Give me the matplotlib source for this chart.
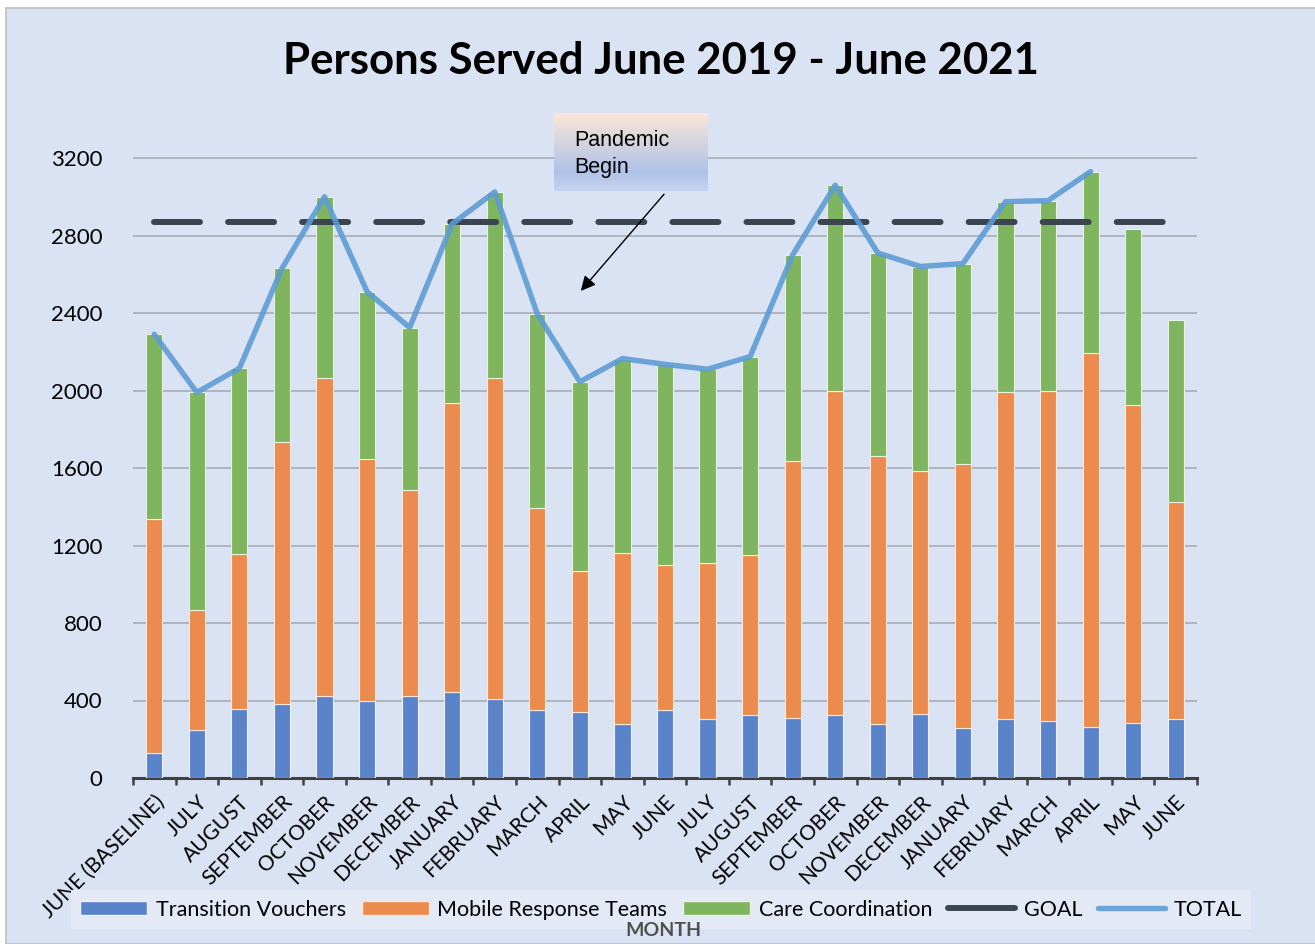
import matplotlib
matplotlib.use("Agg")
import matplotlib.pyplot as plt
import numpy as np
from matplotlib.patches import Rectangle, Patch
from matplotlib.lines import Line2D

months = ["JUNE (BASELINE)", "JULY", "AUGUST", "SEPTEMBER", "OCTOBER", "NOVEMBER",
          "DECEMBER", "JANUARY", "FEBRUARY", "MARCH", "APRIL", "MAY", "JUNE",
          "JULY", "AUGUST", "SEPTEMBER", "OCTOBER", "NOVEMBER", "DECEMBER",
          "JANUARY", "FEBRUARY", "MARCH", "APRIL", "MAY", "JUNE"]
transition_vouchers = [130, 250, 355, 380, 425, 400, 425, 445, 410, 350, 340, 280, 350,
                       305, 325, 310, 325, 280, 330, 260, 305, 295, 265, 285, 305]
mobile_response = [1205, 615, 800, 1355, 1640, 1245, 1060, 1490, 1655, 1045, 730, 880, 750,
                   805, 825, 1325, 1675, 1380, 1255, 1360, 1685, 1700, 1930, 1640, 1120]
care_coordination = [955, 1125, 960, 895, 935, 865, 840, 925, 960, 1000, 975, 1005, 1035,
                     1000, 1025, 1065, 1060, 1050, 1055, 1035, 985, 985, 935, 910, 940]
goal = [2870] * 25
total = [2290, 1990, 2115, 2630, 3000, 2510, 2325, 2860, 3025, 2395, 2045, 2165, 2135,
         2110, 2175, 2700, 3060, 2710, 2640, 2655, 2975, 2980, 3130]
yticks = [0, 400, 800, 1200, 1600, 2000, 2400, 2800, 3200]

C_BLUE = "#5A84CA"
C_ORANGE = "#EB8B4D"
C_GREEN = "#80B55F"
C_GOAL = "#3A4550"
C_TOTAL = "#5B9BD5"
BG = "#DAE3F3"

W, H = 1315, 944
fig = plt.figure(figsize=(W / 100, H / 100), dpi=100)
fig.patch.set_facecolor("white")
bgrect = Rectangle((6 / W, 0), 1.0, 1 - 8 / H, transform=fig.transFigure,
                   facecolor=BG, edgecolor="#BFBFBF", linewidth=1.2, zorder=-10)
fig.patches.append(bgrect)

ax = fig.add_axes([133 / W, 1 - 778 / H, 1064 / W, 658.75 / H])
ax.set_facecolor("none")

x = np.arange(len(months))
bw = 0.38
tv = np.array(transition_vouchers)
mr = np.array(mobile_response)
cc = np.array(care_coordination)
ax.bar(x, tv, bw, color=C_BLUE, edgecolor="#EEF2FA", linewidth=0.8, zorder=3)
ax.bar(x, mr, bw, bottom=tv, color=C_ORANGE, edgecolor="#FBE9DC", linewidth=0.8, zorder=3)
ax.bar(x, cc, bw, bottom=tv + mr, color=C_GREEN, edgecolor="#E8F2E0", linewidth=0.8, zorder=3)

ax.plot(x, goal, color=C_GOAL, lw=4.3, linestyle=(0, (7.7, 4.7)),
        dash_capstyle="round", zorder=4)
ax.plot(x[:len(total)], total, color=C_TOTAL, lw=3.9, alpha=0.88,
        solid_joinstyle="round", solid_capstyle="round", zorder=5)

ax.set_xlim(-0.5, len(months) - 0.5)
ax.set_ylim(0, 3400)
ax.set_yticks(yticks)
ax.set_yticklabels([str(v) for v in yticks], fontfamily="Lato", fontsize=16)
ax.tick_params(axis="y", length=0, pad=22)
ax.grid(axis="y", color="#A8ADB5", lw=1.2, zorder=1)
ax.set_axisbelow(True)

ax.set_xticks(x)
ax.set_xticklabels(months, rotation=45, ha="right", va="top", rotation_mode="anchor",
                   fontfamily="Lato", fontsize=15, color="#000000")
ax.tick_params(axis="x", which="major", length=0, pad=10)
ax.set_xticks(np.arange(-0.5, len(months), 1.0), minor=True)
ax.tick_params(axis="x", which="minor", length=5, width=1.8, color="#404040", direction="out")

for s in ["top", "right", "left"]:
    ax.spines[s].set_visible(False)
ax.spines["bottom"].set_color("#404040")
ax.spines["bottom"].set_linewidth(2.2)

# Title
fig.text(661 / W, 1 - 61 / H, "Persons Served June 2019 - June 2021", ha="center", va="center",
         fontfamily="Lato", fontweight="bold", fontsize=31.5)

# Annotation box with gradient
bax = fig.add_axes([554 / W, 1 - 191 / H, 154 / W, 78 / H])
top = np.array([0xFC, 0xE6, 0xD8]) / 255
mid = np.array([0xAF, 0xC3, 0xE8]) / 255
bot = np.array([0xC4, 0xD3, 0xEF]) / 255
n = 100
grad = np.zeros((n, 1, 3))
for i in range(n):
    t = i / (n - 1)
    if t < 0.75:
        f = t / 0.75
        grad[i, 0] = top * (1 - f) + mid * f
    else:
        f = (t - 0.75) / 0.25
        grad[i, 0] = mid * (1 - f) + bot * f
bax.imshow(grad, aspect="auto", extent=[0, 1, 0, 1], origin="upper")
bax.set_axis_off()
bax.text(20 / 154, 0.475, "Pandemic\nBegin", ha="left", va="center", fontfamily="Liberation Sans",
         fontsize=15.5, linespacing=1.38, transform=bax.transAxes)

ax.annotate("", xy=(9.98, 2503), xytext=(12.02, 3024),
            arrowprops=dict(arrowstyle="-|>", color="black", lw=1.0, mutation_scale=22),
            zorder=6)

# Legend
handles = [Patch(facecolor=C_BLUE, edgecolor="#EEF2FA"),
           Patch(facecolor=C_ORANGE, edgecolor="#FBE9DC"),
           Patch(facecolor=C_GREEN, edgecolor="#E8F2E0"),
           Line2D([], [], color=C_GOAL, lw=4.3, solid_capstyle="round"),
           Line2D([], [], color=C_TOTAL, lw=3.9, alpha=0.88, solid_capstyle="round")]
labels = ["Transition Vouchers", "Mobile Response Teams", "Care Coordination", "GOAL", "TOTAL"]
leg = fig.legend(handles, labels, loc="center", bbox_to_anchor=(661 / W, 1 - 909.5 / H),
                 ncol=5, frameon=True, fancybox=False, prop={"family": "Lato", "size": 15.5},
                 handlelength=3.1, handleheight=0.65, handletextpad=0.4, columnspacing=0.75,
                 borderpad=0.45)
leg.get_frame().set_facecolor("#E3E9F5")
leg.get_frame().set_edgecolor("none")
leg.get_frame().set_alpha(1)
leg.set_zorder(5)

fig.text(663 / W, 1 - 930 / H, "MONTH", ha="center", va="center", fontfamily="Lato",
         fontweight="bold", fontsize=14, color="#505050", zorder=7)

fig.savefig("out.png", dpi=100)
